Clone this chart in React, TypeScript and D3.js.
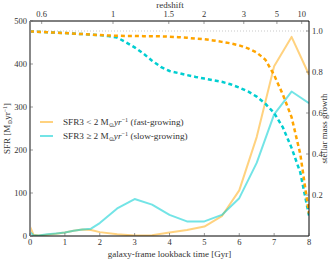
import React from "react";
import * as d3 from "d3";

const sfrTime = [0, 0.1, 0.25, 0.5, 0.75, 1, 1.25, 1.5, 1.75, 2, 2.5, 3, 3.5, 4, 4.5, 5, 5.5, 6, 6.5, 7, 7.5, 8];
const sfrFast = [22, 3, 1, 3, 5, 8, 12, 15, 14, 9, 4, 1, 2, 8, 14, 22, 46, 106, 230, 395, 463, 375];
const sfrSlow = [9, 2, 1, 4, 6, 8, 12, 15, 17, 30, 64, 86, 73, 49, 34, 34, 49, 88, 170, 283, 336, 309];

const massTime = [0, 0.5, 1, 1.5, 2, 2.25, 2.5, 2.75, 3, 3.25, 3.5, 3.75, 4, 4.25, 4.5, 4.75, 5, 5.25, 5.5, 5.75, 6, 6.25, 6.5, 6.75, 7, 7.25, 7.5, 7.75, 8];
const massFast = [0.998, 0.994, 0.99, 0.985, 0.98, 0.978, 0.977, 0.976, 0.976, 0.975, 0.975, 0.974, 0.972, 0.97, 0.967, 0.963, 0.96, 0.954, 0.947, 0.94, 0.93, 0.915, 0.895, 0.86, 0.785, 0.69, 0.58, 0.4, 0.11];
const massSlow = [0.998, 0.994, 0.99, 0.985, 0.98, 0.975, 0.968, 0.945, 0.92, 0.89, 0.855, 0.825, 0.805, 0.795, 0.785, 0.776, 0.768, 0.76, 0.752, 0.74, 0.724, 0.705, 0.68, 0.645, 0.6, 0.53, 0.43, 0.31, 0.1];

const xTicks = [0, 1, 2, 3, 4, 5, 6, 7, 8];
const yLeftTicks = [0, 100, 200, 300, 400, 500];
const yRightTicks = [0.2, 0.4, 0.6, 0.8, 1.0];
const redshiftLabels = ["0.6", "1", "1.5", "2", "3", "5", "10"];
const redshiftLookback = [0.335, 2.38, 3.98, 4.99, 6.13, 7.08, 7.79];

const FONT = "'Liberation Serif', 'DejaVu Serif', serif";

export default function App() {
  const W = 335, H = 261;
  const L = 30, R = 309, T = 21, B = 236;
  const x = d3.scaleLinear().domain([0, 8]).range([L, R]);
  const yL = d3.scaleLinear().domain([0, 500]).range([B, T]);
  const yR = d3.scaleLinear().domain([0, 1.0488]).range([B, T]);

  const sfrLine = (vals: number[]) =>
    d3.line<number>().x((_, i) => x(sfrTime[i])).y((d) => yL(d))(vals) || "";
  const massLine = (vals: number[]) =>
    d3.line<number>().x((_, i) => x(massTime[i])).y((d) => yR(d))(vals) || "";

  const tickCol = "#555";
  const fs = 8.5;

  return (
    <svg width={W} height={H} style={{ position: "absolute", left: 0, top: 0, background: "#fff" }} fontFamily={FONT}>
      <rect x={0} y={0} width={W} height={H} fill="#fff" />
      <defs>
        <clipPath id="plotclip">
          <rect x={L} y={T} width={R - L} height={B - T} />
        </clipPath>
      </defs>
      <line x1={L} x2={R} y1={yR(1)} y2={yR(1)} stroke="#bbb" strokeWidth={0.8} strokeDasharray="1,2" />
      <g clipPath="url(#plotclip)">
        <path d={sfrLine(sfrFast)} fill="none" stroke="#FFA500" strokeOpacity={0.5} strokeWidth={2} strokeLinejoin="round" />
        <path d={sfrLine(sfrSlow)} fill="none" stroke="#00CED1" strokeOpacity={0.55} strokeWidth={2} strokeLinejoin="round" />
        <path d={massLine(massSlow)} fill="none" stroke="#00CED1" strokeWidth={2.5} strokeDasharray="4,3" />
        <path d={massLine(massFast)} fill="none" stroke="#FFA500" strokeWidth={2.5} strokeDasharray="4,3" />
      </g>
      <line x1={L} x2={R} y1={T} y2={T} stroke="#000" strokeWidth={1} />
      <line x1={L} x2={R} y1={B} y2={B} stroke="#000" strokeWidth={1} />
      <line x1={R} x2={R} y1={T} y2={B} stroke="#000" strokeWidth={1} />
      <line x1={L} x2={L} y1={T} y2={B} stroke="#888" strokeWidth={2} />
      {xTicks.map((t) => (
        <g key={"x" + t}>
          <line x1={x(t)} x2={x(t)} y1={B} y2={B - 3} stroke={tickCol} strokeWidth={0.6} />
          <text x={x(t)} y={B + 9} fontSize={fs} textAnchor="middle" fill="#333">{t}</text>
        </g>
      ))}
      <text x={(L + R) / 2} y={B + 21} fontSize={9} textAnchor="middle" fill="#333">galaxy-frame lookback time [Gyr]</text>
      {redshiftLookback.map((t, i) => (
        <g key={"z" + i}>
          <line x1={x(t)} x2={x(t)} y1={T} y2={T + 3} stroke={tickCol} strokeWidth={0.6} />
          <text x={x(t)} y={T - 4} fontSize={fs} textAnchor="middle" fill="#333">{redshiftLabels[i]}</text>
        </g>
      ))}
      <text x={170} y={8} fontSize={9} textAnchor="middle" fill="#333">redshift</text>
      {yLeftTicks.map((v) => (
        <g key={"l" + v}>
          <line x1={L} x2={L + 3} y1={yL(v)} y2={yL(v)} stroke={tickCol} strokeWidth={0.6} />
          <text x={L - 3} y={yL(v) + 3} fontSize={fs} textAnchor="end" fill="#333">{v}</text>
        </g>
      ))}
      <text transform={`translate(10,${(T + B) / 2}) rotate(-90)`} fontSize={9} textAnchor="middle" fill="#333">
        SFR [M<tspan fontSize={6} dy={2}>⊙</tspan><tspan dy={-2}>yr</tspan><tspan fontSize={6} dy={-3}>−1</tspan><tspan dy={3}>]</tspan>
      </text>
      {yRightTicks.map((v) => (
        <g key={"r" + v}>
          <line x1={R} x2={R - 3} y1={yR(v)} y2={yR(v)} stroke={tickCol} strokeWidth={0.6} />
          <text x={R + 3} y={yR(v) + 3} fontSize={fs} textAnchor="start" fill="#333">{v.toFixed(1)}</text>
        </g>
      ))}
      <text transform={`translate(327,${(T + B) / 2}) rotate(-90)`} fontSize={9} textAnchor="middle" fill="#333">stellar mass growth</text>
      <line x1={40} x2={53} y1={122} y2={122} stroke="#FFA500" strokeOpacity={0.5} strokeWidth={2} />
      <line x1={40} x2={53} y1={136} y2={136} stroke="#00CED1" strokeOpacity={0.55} strokeWidth={2} />
      <text x={63} y={125} fontSize={9.2} fill="#333">
        SFR3 &lt; 2 M<tspan fontSize={6.2} dy={2}>⊙</tspan><tspan dy={-2} fontStyle="italic">yr</tspan><tspan fontSize={6.2} dy={-3}>−1</tspan><tspan dy={3}> (fast-growing)</tspan>
      </text>
      <text x={63} y={139} fontSize={9.2} fill="#333">
        SFR3 ≥ 2 M<tspan fontSize={6.2} dy={2}>⊙</tspan><tspan dy={-2} fontStyle="italic">yr</tspan><tspan fontSize={6.2} dy={-3}>−1</tspan><tspan dy={3}> (slow-growing)</tspan>
      </text>
    </svg>
  );
}
